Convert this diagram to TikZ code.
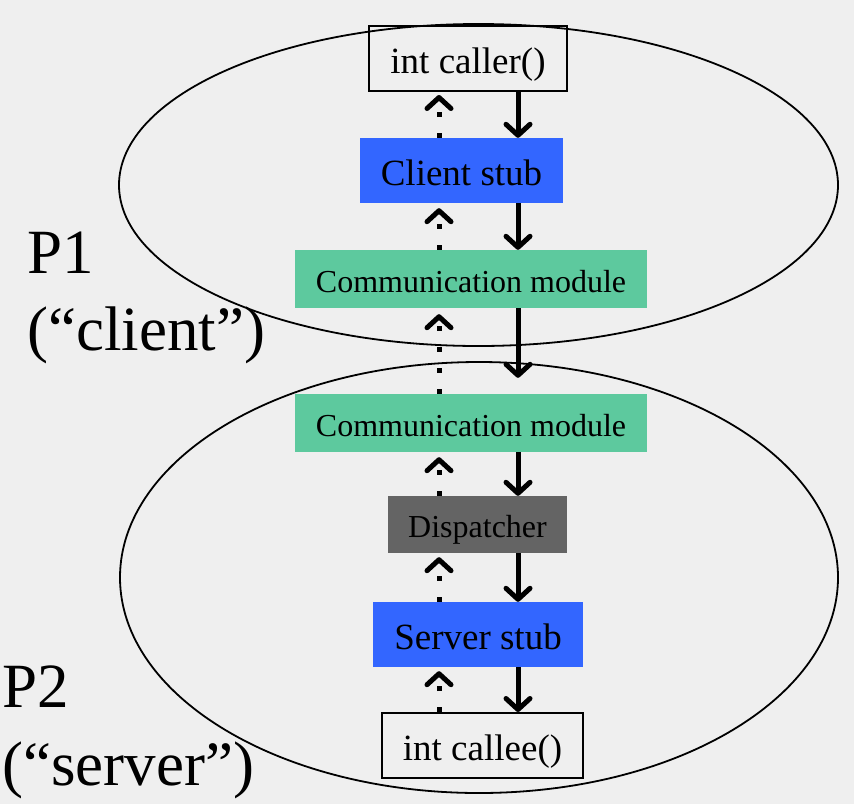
\documentclass[tikz,border=0pt]{standalone}
\usepackage{fontspec}
\setmainfont{Liberation Serif}
\usetikzlibrary{arrows.meta}
\definecolor{bgcol}{RGB}{239,239,239}
\definecolor{stubblue}{RGB}{51,102,255}
\definecolor{commgreen}{RGB}{93,201,158}
\definecolor{dispgrey}{RGB}{100,100,100}
\begin{document}
\begin{tikzpicture}[x=1pt,y=-1pt,
  box/.style={inner sep=0pt, text=black, align=center},
  bigtxt/.style={font=\fontsize{37}{44}\selectfont, text height=30pt, text depth=1pt},
  smalltxt/.style={font=\fontsize{32}{38}\selectfont, text height=27pt, text depth=1pt},
  labeltxt/.style={font=\fontsize{63}{72}\selectfont, inner sep=0pt, anchor=base west},
  chev/.style={-{Straight Barb[length=11pt,width=24pt,line cap=round,line join=round]}},
  callarrow/.style={chev, line width=5pt},
  retarrow/.style={chev, line width=5pt, dash pattern=on 5pt off 16pt},
  proc/.style={line width=1.8pt}
]
\useasboundingbox (0,0) rectangle (854,804);
\fill[bgcol] (0,0) rectangle (854,804);

% process ellipses
\draw[proc] (478.5,185) ellipse [x radius=359.5, y radius=161];
\draw[proc] (479,577.5) ellipse [x radius=359, y radius=215.5];

% components
\node[box, bigtxt, draw=black, line width=2pt, minimum width=198pt, minimum height=65pt] (caller) at (468,58.5) {int caller()};
\node[box, bigtxt, fill=stubblue, minimum width=203pt, minimum height=65pt] (client) at (461.5,170.5) {Client stub};
\node[box, smalltxt, fill=commgreen, minimum width=352pt, minimum height=58pt] (comm1) at (471,279) {Communication module};
\node[box, smalltxt, fill=commgreen, minimum width=352pt, minimum height=58pt] (comm2) at (471,423) {Communication module};
\node[box, smalltxt, fill=dispgrey, minimum width=179pt, minimum height=57pt] (disp) at (477.5,524.5) {Dispatcher};
\node[box, bigtxt, fill=stubblue, minimum width=210pt, minimum height=65pt] (server) at (478,634.5) {Server stub};
\node[box, bigtxt, draw=black, line width=2pt, minimum width=201pt, minimum height=65pt] (callee) at (482.5,745.5) {int callee()};

% labels
\node[labeltxt] (p1a) at (27,273) {P1};
\node[labeltxt] (p1b) at (27,350) {(“client”)};
\node[labeltxt] (p2a) at (2,707) {P2};
\node[labeltxt] (p2b) at (2,785) {(“server”)};

% x positions of the two columns of arrows
\coordinate (sx) at (518,0);
\coordinate (dx) at (439,0);

% calls (solid, downward)
\draw[callarrow] (caller.south -| sx) -- (client.north -| sx);
\draw[callarrow] (client.south -| sx) -- (comm1.north -| sx);
\draw[callarrow, shorten >=16pt] (comm1.south -| sx) -- (comm2.north -| sx);
\draw[callarrow] (comm2.south -| sx) -- (disp.north -| sx);
\draw[callarrow] (disp.south -| sx) -- (server.north -| sx);
\draw[callarrow] (server.south -| sx) -- (callee.north -| sx);

% returns (dotted, upward)
\draw[retarrow, shorten >=3pt] (client.north -| dx) -- (caller.south -| dx);
\draw[retarrow, shorten >=5pt] (comm1.north -| dx) -- (client.south -| dx);
\draw[retarrow, shorten >=6pt] (comm2.north -| dx) -- (comm1.south -| dx);
\draw[retarrow, shorten >=5pt] (disp.north -| dx) -- (comm2.south -| dx);
\draw[retarrow, shorten >=4pt] (server.north -| dx) -- (disp.south -| dx);
\draw[retarrow, shorten >=4pt] (callee.north -| dx) -- (server.south -| dx);
\end{tikzpicture}
\end{document}
